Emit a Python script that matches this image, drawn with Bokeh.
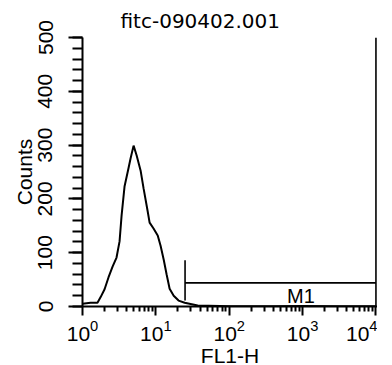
from bokeh.plotting import figure
from bokeh.models import Range1d, SingleIntervalTicker, FixedTicker, LogTickFormatter
from bokeh.core.properties import value
from bokeh.embed import file_html
from bokeh.resources import INLINE

# ---- data ----
title_text = "fitc-090402.001"
x_label = "FL1-H"
y_label = "Counts"

x_ticks = [1, 10, 100, 1000, 10000]
x_minor = [m * d for d in [1, 10, 100, 1000] for m in range(2, 10)]

fl1 = [1.0, 1.29, 1.60, 1.76, 2.0, 2.26, 2.57, 2.91, 3.20, 3.41, 3.74, 4.25, 4.52,
       4.97, 5.46, 6.19, 6.81, 7.71, 8.22, 9.30, 10.6, 11.6, 12.8, 14.0, 15.4,
       17.5, 20.4, 24.7, 37.2, 105, 400, 1000, 3000, 10000]
counts = [5, 7, 7, 17, 32, 54, 74, 91, 121, 169, 223, 258, 275,
          299, 281, 253, 219, 178, 156, 145, 132, 113, 87, 60, 33,
          20, 11, 7, 2, 0.5, 0.5, 1, 0.5, 0.5]

marker_name = "M1"
marker_label_x = 950
marker_left = 25
marker_right = 10000
marker_level = 44
marker_left_low = 11
marker_left_high = 86
marker_right_top = 500

FONT = "Liberation Sans"

p = figure(x_axis_type="log", x_range=Range1d(1, 10500), y_range=Range1d(0, 500),
           frame_width=295, frame_height=269,
           min_border_left=82, min_border_right=0, min_border_top=37, min_border_bottom=51,
           output_backend="svg", toolbar_location=None, title=title_text)
p.outline_line_color = None
p.grid.visible = False
p.background_fill_color = "white"
p.border_fill_color = "white"

p.title.text_font = "DejaVu Sans"
p.title.text_font_size = "20px"
p.title.text_font_style = "normal"
p.title.text_color = "black"
p.title.align = "left"
p.title.offset = 38

# histogram
p.line(fl1, counts, line_width=2, color="black")

# marker M1
p.segment(x0=[marker_left, marker_left, marker_right], y0=[marker_level, marker_left_low, 0],
          x1=[marker_right, marker_left, marker_right], y1=[marker_level, marker_left_high, marker_right_top],
          line_width=1.6, color="black")
p.text(x=[marker_label_x], y=[0], text=[marker_name], text_align="center",
       text_baseline="bottom", text_font=value(FONT), text_font_size="20px", text_color="black")

# y axis
ya = p.yaxis[0]
ya.ticker = SingleIntervalTicker(interval=100, num_minor_ticks=5)
ya.axis_line_width = 2
ya.major_tick_line_width = 2
ya.minor_tick_line_width = 2
ya.major_tick_out = 14
ya.major_tick_in = 0
ya.minor_tick_out = 10
ya.minor_tick_in = 0
ya.major_label_orientation = "vertical"
ya.major_label_text_font = FONT
ya.major_label_text_font_size = "21px"
ya.major_label_text_color = "black"
ya.major_label_standoff = 16
ya.axis_label = y_label
ya.axis_label_text_font = FONT
ya.axis_label_text_font_size = "21px"
ya.axis_label_text_font_style = "normal"
ya.axis_label_text_color = "black"
ya.axis_label_standoff = 0

# x axis
xa = p.xaxis[0]
xa.ticker = FixedTicker(ticks=x_ticks, minor_ticks=x_minor)
xa.formatter = LogTickFormatter(min_exponent=0)
xa.axis_line_width = 2
xa.major_tick_line_width = 2
xa.minor_tick_line_width = 2
xa.major_tick_out = 9
xa.major_tick_in = 0
xa.minor_tick_out = 5
xa.minor_tick_in = 0
xa.major_label_text_font = FONT
xa.major_label_text_font_size = "21px"
xa.major_label_text_color = "black"
xa.major_label_standoff = 4
xa.axis_label = x_label
xa.axis_label_text_font = FONT
xa.axis_label_text_font_size = "21px"
xa.axis_label_text_font_style = "normal"
xa.axis_label_text_color = "black"
xa.axis_label_standoff = 0

open("out.html", "w").write(file_html(p, INLINE))
